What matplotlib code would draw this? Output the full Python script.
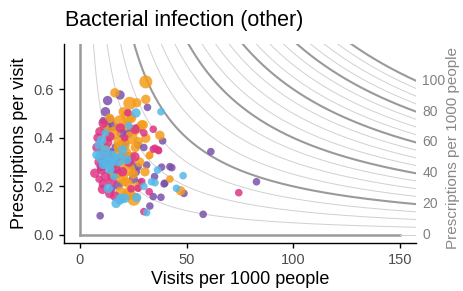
import numpy as np
import matplotlib
matplotlib.use("Agg")
import matplotlib.pyplot as plt

plt.rcParams["font.family"] = ["Liberation Sans", "DejaVu Sans"]

# (visits per 1000, prescriptions per visit, size class)
orange = [
    (30.9, 0.63, 3), (16.4, 0.585, 2), (30.9, 0.558, 2), (23.4, 0.542, 3), (26.6, 0.544, 2),
    (20.3, 0.507, 2), (24.2, 0.48, 2), (29.7, 0.453, 2), (37.5, 0.41, 2), (30.9, 0.398, 2),
    (32.5, 0.326, 1), (42.2, 0.23, 1), (47.2, 0.182, 2), (25.3, 0.147, 3), (21.9, 0.165, 2),
    (22.6, 0.487, 3), (18.8, 0.466, 3), (28.9, 0.453, 2), (11.7, 0.439, 2), (20.3, 0.37, 3),
    (18.0, 0.384, 2), (27.3, 0.384, 2), (21.1, 0.336, 3), (24.2, 0.322, 2), (18.0, 0.363, 2),
    (30.5, 0.26, 2), (32.8, 0.329, 1), (22.6, 0.213, 2), (21.1, 0.219, 2), (14.9, 0.24, 2),
    (19.5, 0.24, 3), (16.0, 0.42, 3), (13.0, 0.40, 2), (24.0, 0.40, 3), (26.0, 0.36, 2),
    (28.0, 0.30, 2), (15.0, 0.28, 2), (23.0, 0.27, 3), (20.0, 0.29, 2), (17.0, 0.33, 2),
    (25.0, 0.25, 2), (27.0, 0.20, 2), (19.0, 0.18, 2), (12.0, 0.36, 2), (10.0, 0.35, 2),
    (23.0, 0.17, 3), (22.0, 0.45, 2), (14.0, 0.48, 2), (26.0, 0.43, 2),
]
purple = [
    (18.8, 0.576, 2), (13.0, 0.553, 2), (31.7, 0.525, 1), (12.0, 0.507, 2), (27.3, 0.439, 2),
    (38.8, 0.387, 1), (38.3, 0.279, 1), (43.1, 0.277, 1), (39.5, 0.21, 1), (48.8, 0.171, 1),
    (34.4, 0.158, 1), (38.0, 0.155, 1), (32.8, 0.119, 1), (9.5, 0.079, 1), (57.8, 0.085, 1),
    (61.4, 0.343, 1), (82.8, 0.219, 1), (14.1, 0.473, 2), (15.6, 0.446, 2), (19.5, 0.418, 2),
    (22.6, 0.418, 2), (27.3, 0.37, 1), (14.9, 0.254, 2), (18.0, 0.254, 2), (22.6, 0.322, 2),
    (27.3, 0.281, 1), (31.3, 0.288, 1), (42.2, 0.281, 1), (39.8, 0.213, 1), (28.1, 0.215, 1),
    (18.0, 0.206, 2), (16.0, 0.30, 3), (20.0, 0.32, 2), (12.0, 0.30, 2), (24.0, 0.29, 2),
    (17.0, 0.36, 2), (14.0, 0.34, 2), (21.0, 0.38, 2), (10.0, 0.28, 2), (25.0, 0.23, 2),
    (15.0, 0.19, 1), (20.0, 0.15, 1), (26.0, 0.26, 2), (13.0, 0.44, 2), (11.0, 0.47, 1),
    (30.0, 0.36, 1), (35.0, 0.24, 1),
]
magenta = [
    (22.5, 0.503, 1), (34.4, 0.435, 1), (34.4, 0.353, 1), (36.9, 0.347, 1), (32.5, 0.178, 1),
    (30.0, 0.096, 1), (16.4, 0.16, 2), (10.6, 0.188, 2), (74.5, 0.174, 1), (10.9, 0.46, 2),
    (25.8, 0.435, 2), (9.4, 0.425, 2), (14.1, 0.405, 2), (35.2, 0.357, 1), (7.0, 0.254, 2),
    (10.2, 0.267, 2), (25.8, 0.322, 2), (36.7, 0.35, 1), (27.3, 0.192, 1), (9.0, 0.30, 2),
    (11.0, 0.33, 2), (12.0, 0.24, 2), (8.0, 0.36, 2), (13.0, 0.38, 2), (15.0, 0.22, 2),
    (17.0, 0.27, 2), (20.0, 0.26, 2), (23.0, 0.30, 2), (19.0, 0.44, 2), (21.0, 0.40, 1),
    (8.5, 0.40, 2), (11.0, 0.21, 2), (14.0, 0.17, 2), (30.0, 0.42, 1), (29.0, 0.22, 1),
    (24.0, 0.19, 1), (16.0, 0.31, 2), (9.0, 0.23, 1),
]
lightblue = [
    (26.3, 0.502, 2), (38.0, 0.507, 1), (36.4, 0.267, 1), (48.4, 0.244, 1), (45.3, 0.192, 1),
    (33.6, 0.219, 1), (35.2, 0.215, 1), (31.3, 0.092, 1), (26.6, 0.154, 2), (19.1, 0.151, 2),
    (13.3, 0.192, 2), (10.2, 0.391, 2), (10.2, 0.322, 3), (18.0, 0.309, 3), (13.3, 0.295, 3),
    (18.8, 0.144, 2), (21.1, 0.151, 2), (8.0, 0.33, 2), (12.0, 0.35, 2), (15.0, 0.32, 3),
    (22.0, 0.31, 2), (9.0, 0.37, 2), (14.0, 0.27, 2), (16.0, 0.24, 1), (11.0, 0.29, 2),
    (20.0, 0.35, 2), (23.0, 0.45, 1), (30.0, 0.20, 1), (12.0, 0.42, 1), (17.0, 0.13, 2),
]

groups = [
    (purple, "#7b52ab"),
    (orange, "#f49d1c"),
    (magenta, "#dd3585"),
    (lightblue, "#56b8e8"),
]
size_map = {1: 30, 2: 46, 3: 88}

iso_thin = np.arange(5, 101, 5)
iso_thick = [20, 40, 60, 80, 100]
iso_labels = [0, 20, 40, 60, 80, 100]

xlim = (-7.5, 157.5)
ylim = (-0.033, 0.786)

fig = plt.figure(figsize=(4.63, 2.91), dpi=100)
ax = fig.add_axes([0.138, 0.165, 0.760, 0.684])

xs = np.linspace(0.5, xlim[1], 600)
for c in iso_thin:
    thick = c in iso_thick
    ax.plot(xs, c / xs, color="#9a9a9a" if thick else "#d0d0d0",
            lw=1.5 if thick else 0.7, zorder=1)
# zero contour: the two axes
ax.plot([0, 0], [0, ylim[1]], color="#9a9a9a", lw=1.8, zorder=1)
ax.plot([0, 150], [0, 0], color="#9a9a9a", lw=1.8, zorder=1)
ax.plot([150, xlim[1]], [0, 0], color="#d0d0d0", lw=0.7, zorder=1)

for pts, col in groups:
    arr = np.array(pts)
    sizes = [size_map[int(k)] for k in arr[:, 2]]
    ax.scatter(arr[:, 0], arr[:, 1], s=sizes, color=col,
               alpha=0.85, linewidths=0, zorder=2)

ax.set_xlim(*xlim)
ax.set_ylim(*ylim)
ax.set_xticks([0, 50, 100, 150])
ax.set_yticks([0.0, 0.2, 0.4, 0.6])
ax.set_yticklabels(["0.0", "0.2", "0.4", "0.6"])
ax.tick_params(labelsize=10.5, colors="black", labelcolor="#4d4d4d", length=3.5, width=1)
for s in ["top", "right"]:
    ax.spines[s].set_visible(False)
for s in ["left", "bottom"]:
    ax.spines[s].set_linewidth(1)

ax.set_xlabel("Visits per 1000 people", fontsize=13, labelpad=3)
ax.set_ylabel("Prescriptions per visit", fontsize=13, labelpad=4)
fig.text(0.140, 0.931, "Bacterial infection (other)", fontsize=15.5, va="center", ha="left")

for c in iso_labels:
    ax.text(xlim[1] + 3, c / xlim[1], str(c), fontsize=10, color="#808080",
            va="center", ha="left", clip_on=False)
fig.text(0.978, 0.49, "Prescriptions per 1000 people", rotation=90, fontsize=11,
         color="#888888", va="center", ha="center")

fig.savefig("out.png", dpi=100)
